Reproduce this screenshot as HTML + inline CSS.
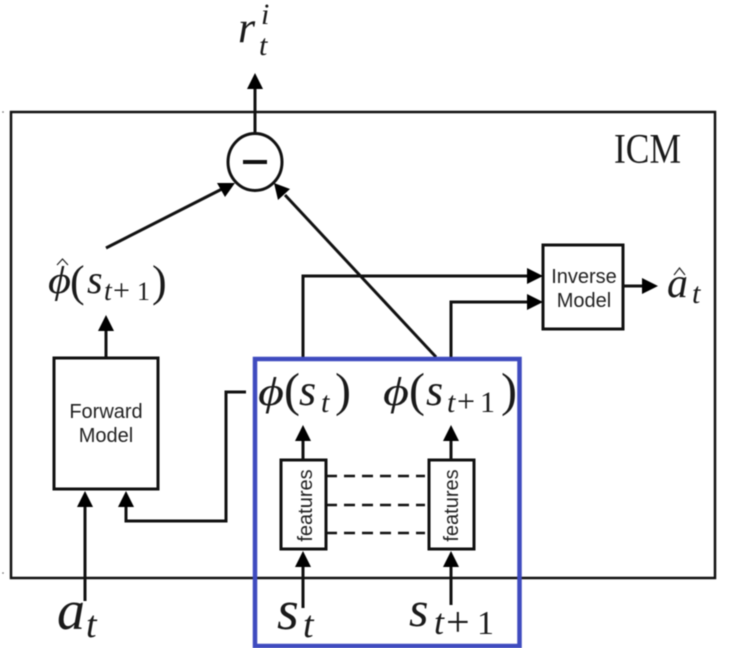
<!DOCTYPE html>
<html>
<head>
<meta charset="utf-8">
<style>
html,body{margin:0;padding:0;background:#fff;width:740px;height:648px;overflow:hidden}
svg{display:block}
.m{font-family:"Liberation Serif",serif;font-style:italic;fill:#1a1a1a}
.r{font-family:"Liberation Serif",serif;fill:#1a1a1a}
.s{font-family:"Liberation Sans",sans-serif;fill:#222}
.h{fill:none;stroke:#222;stroke-width:1.2}
</style>
</head>
<body>
<svg width="740" height="648" viewBox="0 0 740 648" xmlns="http://www.w3.org/2000/svg">
<rect width="740" height="648" fill="#fff"/>
<g style="filter:blur(0.4px)">
<g fill="none" stroke="#111">
  <rect x="11" y="112" width="704" height="466" stroke-width="2.5"/>
  <ellipse cx="255" cy="162" rx="27" ry="28.5" stroke-width="3" fill="#fff"/>
  <path d="M255 132V86" stroke-width="3"/>
  <path d="M243 162H267" stroke-width="4"/>
  <path d="M106 248L222 189" stroke-width="3"/>
  <path d="M436 357L285 195" stroke-width="3"/>
  <rect x="54" y="358" width="104" height="131" stroke-width="3"/>
  <path d="M106 358V328" stroke-width="3"/>
  <path d="M85 601V505" stroke-width="3"/>
  <path d="M246 392H226V521H126V505" stroke-width="3"/>
  <path d="M303 358V276H530" stroke-width="3"/>
  <path d="M451 358V302H530" stroke-width="3"/>
  <rect x="543" y="245" width="80" height="84" stroke-width="3"/>
  <path d="M623 286H645" stroke-width="3"/>
  <rect x="281" y="460" width="45" height="89" stroke-width="3"/>
  <rect x="429" y="460" width="45" height="89" stroke-width="3"/>
  <path d="M303 460V438M451 460V438M303 608V565M451 605V565" stroke-width="3"/>
  <path d="M326 476H425M326 505H425M326 533H425" stroke-width="2.5" stroke-dasharray="11 7"/>
  <rect x="255" y="359" width="264.500" height="287" stroke="#3f4bbf" stroke-width="4.500"/>
</g>
<g fill="#000">
  <path d="M255 73L263 89H247Z"/>
  <path d="M235 183L225 197L217 183Z"/>
  <path d="M274 183L290 189L278 200Z"/>
  <path d="M106 315L114 331H98Z"/>
  <path d="M85 491L93 507H77Z"/>
  <path d="M126 491L134 507H118Z"/>
  <path d="M543 276L527 268V284Z"/>
  <path d="M543 302L527 294V310Z"/>
  <path d="M658 286L642 278V294Z"/>
  <path d="M303 425L311 441H295Z"/>
  <path d="M451 425L459 441H443Z"/>
  <path d="M303 551L311 567H295Z"/>
  <path d="M451 551L459 567H443Z"/>
</g>
<circle cx="3" cy="112" r="0.800" fill="#666"/>
<circle cx="3" cy="573" r="0.800" fill="#666"/>

<text class="m" x="238" y="42" font-size="44">r</text>
<text class="m" x="261" y="24" font-size="30">i</text>
<text class="m" x="259" y="55" font-size="30">t</text>

<text class="r" x="614" y="163" font-size="42" textLength="67" lengthAdjust="spacingAndGlyphs">ICM</text>

<text class="s" x="584" y="283" font-size="20" text-anchor="middle">Inverse</text>
<text class="s" x="584" y="307" font-size="20" text-anchor="middle">Model</text>
<text class="s" x="106" y="418" font-size="20" text-anchor="middle">Forward</text>
<text class="s" x="106" y="442" font-size="20" text-anchor="middle">Model</text>

<text class="s" transform="translate(312,505.500) rotate(-90)" font-size="20" text-anchor="middle">features</text>
<text class="s" transform="translate(458,505.500) rotate(-90)" font-size="20" text-anchor="middle">features</text>

<text class="m" x="667" y="297" font-size="42">a</text>
<path class="h" d="M674 275L679.500 268L685 275"/>
<text class="m" x="692" y="303" font-size="30">t</text>

<text class="m" x="48" y="293" font-size="38" textLength="23" lengthAdjust="spacingAndGlyphs">ϕ</text>
<path class="h" d="M57 265L62.500 259L68 265"/>
<text class="r" x="70" y="296" font-size="44">(</text>
<text class="m" x="87" y="293" font-size="40">s</text>
<text class="m" x="104" y="300" font-size="28">t</text>
<text class="r" x="113" y="300" font-size="30">+</text>
<text class="r" x="137" y="300" font-size="26">1</text>
<text class="r" x="152" y="296" font-size="44">)</text>

<text class="m" x="258" y="405" font-size="40" textLength="26" lengthAdjust="spacingAndGlyphs">ϕ</text>
<text class="r" x="284" y="406" font-size="48">(</text>
<text class="m" x="299" y="405" font-size="44">s</text>
<text class="m" x="321" y="412" font-size="30">t</text>
<text class="r" x="335" y="406" font-size="48">)</text>

<text class="m" x="383" y="405" font-size="40" textLength="26" lengthAdjust="spacingAndGlyphs">ϕ</text>
<text class="r" x="409" y="406" font-size="48">(</text>
<text class="m" x="426" y="405" font-size="44">s</text>
<text class="m" x="447" y="412" font-size="30">t</text>
<text class="r" x="457" y="412" font-size="32">+</text>
<text class="r" x="480" y="412" font-size="30">1</text>
<text class="r" x="501" y="406" font-size="48">)</text>

<text class="m" x="57" y="629" font-size="56">a</text>
<text class="m" x="86" y="637" font-size="38">t</text>
<text class="m" x="277" y="629" font-size="56">s</text>
<text class="m" x="303" y="637" font-size="38">t</text>
<text class="m" x="409" y="626" font-size="50">s</text>
<text class="m" x="434" y="634" font-size="36">t</text>
<text class="r" x="446" y="636" font-size="42">+</text>
<text class="r" x="477" y="634" font-size="34">1</text>
</g>
</svg>
</body>
</html>
